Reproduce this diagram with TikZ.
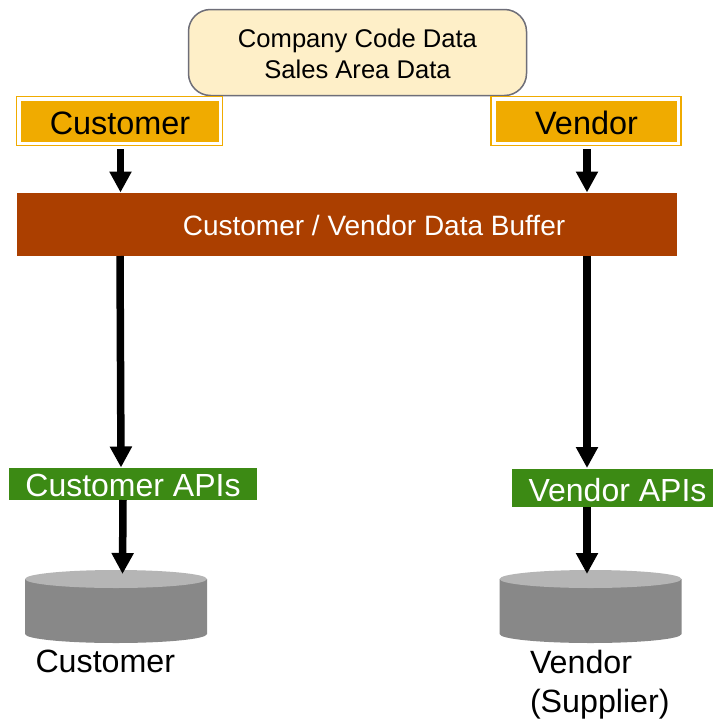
\documentclass[tikz,border=0pt]{standalone}
\usepackage{fontspec}
\setmainfont{Liberation Sans}
\usetikzlibrary{arrows.meta}
\definecolor{amber}{HTML}{F0AB00}
\definecolor{rust}{HTML}{AB3F00}
\definecolor{apigreen}{HTML}{3C8A14}
\definecolor{cream}{HTML}{FEEFC8}
\definecolor{slateedge}{HTML}{6E6E78}
\definecolor{dbside}{HTML}{888888}
\definecolor{dbtop}{HTML}{B5B5B5}
\newcommand{\lowertext}[2]{\raisebox{-#1pt}[0pt][0pt]{#2}}
\tikzset{
  every node/.style={inner sep=0pt,outer sep=0pt,align=center},
  big/.style={font=\fontsize{32.4}{38}\selectfont},
  apifont/.style={font=\fontsize{32}{38}\selectfont},
  flowarrow/.style={line width=7.5pt,-{Triangle[length=21pt,width=21pt]},black},
  infobox/.style={draw=slateedge,line width=1.5pt,fill=cream,rounded corners=22pt,font=\fontsize{25.6}{31}\selectfont},
  halo/.style={draw=amber,line width=1.4pt,fill=white},
  entitybox/.style={fill=amber,big,text=black},
  bufferbox/.style={fill=rust,text=white,font=\fontsize{28}{32}\selectfont},
  apibox/.style={fill=apigreen,text=white,apifont},
  dbshape/.style={minimum width=182pt,minimum height=73pt},
  caption/.style={font=\fontsize{32.2}{38}\selectfont,text=black,align=left}
}
\begin{document}
\begin{tikzpicture}[x=1pt,y=-1pt]
\useasboundingbox (0,0) rectangle (713,720);
\fill[white] (0,0) rectangle (713,720);
\node[infobox,minimum width=338pt,minimum height=86pt] (info) at (357.5,52.5) {\lowertext{10}{Company Code Data}\\\lowertext{10}{Sales Area Data}};
\node[halo,minimum width=206.5pt,minimum height=49pt] (custo) at (119.5,121) {};
\node[entitybox,minimum width=198pt,minimum height=41pt] (cust) at (120,121) {\lowertext{13}{Customer}};
\node[halo,minimum width=190pt,minimum height=49pt] (vendo) at (586,121) {};
\node[entitybox,minimum width=181pt,minimum height=41pt] (vend) at (586.5,121.5) {\lowertext{12.5}{Vendor}};
\node[bufferbox,minimum width=660pt,minimum height=63pt] (buf) at (347,224.5) {\hspace*{54pt}\lowertext{10.5}{Customer / Vendor Data Buffer}};
\node[apibox,minimum width=248pt,minimum height=32pt] (capi) at (133,484) {\lowertext{12.5}{Customer APIs}};
\node[apibox,minimum width=201pt,minimum height=38pt] (vapi) at (612.5,488) {\hspace*{10pt}\lowertext{13.5}{Vendor APIs}};
\node[dbshape] (cdb) at (116,606.5) {};
\node[dbshape] (vdb) at (590.5,606.5) {};
\foreach \d in {cdb,vdb}{
  \fill[dbside] ([yshift=-9pt]\d.north west) -- ([yshift=9pt]\d.south west)
     arc[start angle=180,end angle=360,x radius=91pt,y radius=9pt]
     -- ([yshift=-9pt]\d.north east) -- cycle;
  \fill[dbtop] ([yshift=-9pt]\d.north) ellipse[x radius=91pt,y radius=9pt];
}
\node[caption,anchor=base west] (clab) at (35.5,672) {Customer};
\node[caption,anchor=base west] (vlab) at (530,673) {Vendor};
\node[caption,anchor=base west] (slab) at (530,712) {(Supplier)};
\coordinate (c1) at (120.5,149);
\coordinate (c2) at (120.5,192.5);
\coordinate (c3) at (120,256);
\coordinate (c4) at (121,467.5);
\coordinate (c5) at (123,500);
\coordinate (c6) at (122.5,574);
\coordinate (v1) at (587,149);
\coordinate (v2) at (587,192.5);
\coordinate (v3) at (587,256);
\coordinate (v4) at (587,468);
\coordinate (v5) at (587,507);
\coordinate (v6) at (587,574);
\draw[flowarrow] (c1) -- (c2);
\draw[flowarrow] (c3) -- (c4);
\draw[flowarrow] (c5) -- (c6);
\draw[flowarrow] (v1) -- (v2);
\draw[flowarrow] (v3) -- (v4);
\draw[flowarrow] (v5) -- (v6);
\end{tikzpicture}
\end{document}
